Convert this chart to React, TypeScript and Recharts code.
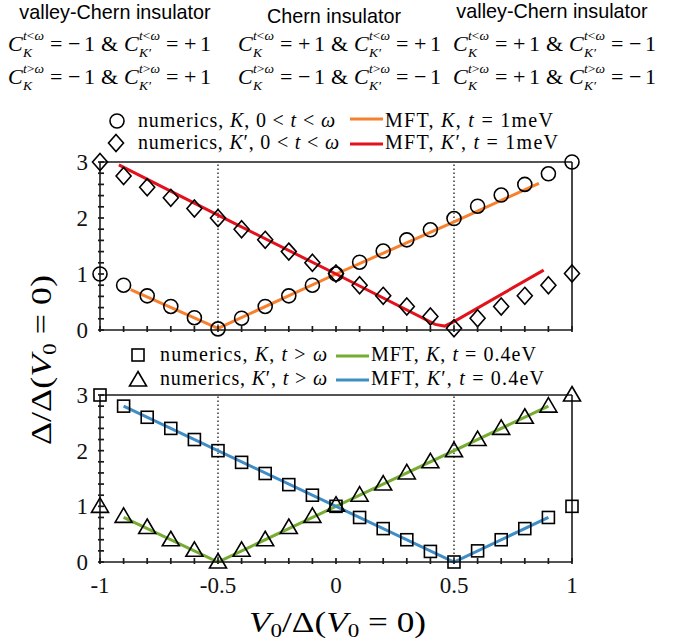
import React from "react"
import { ComposedChart, Line, Scatter, XAxis, YAxis, ReferenceLine } from "recharts"

// x positions of the numerical points (V0 / Delta(V0 = 0))
const v0 = [-1, -0.9, -0.8, -0.7, -0.6, -0.5, -0.4, -0.3, -0.2, -0.1, 0, 0.1, 0.2, 0.3, 0.4, 0.5, 0.6, 0.7, 0.8, 0.9, 1]

// upper panel: 0 < t < omega
const numKLow = [1.0, 0.8, 0.61, 0.42, 0.22, 0.02, 0.21, 0.42, 0.61, 0.8, 1.0, 1.21, 1.41, 1.61, 1.79, 1.99, 2.21, 2.41, 2.6, 2.79, 3.0]
const numKpLow = [3.0, 2.75, 2.55, 2.36, 2.17, 2.0, 1.8, 1.61, 1.4, 1.2, 1.01, 0.8, 0.61, 0.42, 0.24, 0.03, 0.21, 0.42, 0.61, 0.8, 1.01]
const mftKLowX = [-0.87, -0.5, 0, 0.5, 0.86]
const mftKLowY = [0.72, 0.03, 1.0, 1.93, 2.62]
const mftKpLowX = [-0.92, -0.5, 0, 0.42, 0.46, 0.5, 0.88]
const mftKpLowY = [2.95, 2.05, 1.0, 0.1, 0.07, 0.15, 1.07]

// lower panel: t > omega
const numKHigh = [3.0, 2.8, 2.6, 2.4, 2.2, 2.0, 1.79, 1.59, 1.39, 1.2, 1.0, 0.8, 0.6, 0.4, 0.19, 0.0, 0.2, 0.4, 0.6, 0.8, 1.0]
const numKpHigh = [1.0, 0.82, 0.62, 0.4, 0.21, 0.0, 0.21, 0.4, 0.62, 0.82, 1.02, 1.2, 1.4, 1.6, 1.8, 2.0, 2.2, 2.4, 2.6, 2.8, 3.0]
const mftKHighX = [-0.9, -0.5, 0.9]
const mftKHighY = [0.8, 0, 2.8]
const mftKpHighX = [-0.9, 0.5, 0.9]
const mftKpHighY = [2.8, 0, 0.8]

const xTicks = [-1, -0.9, -0.8, -0.7, -0.6, -0.5, -0.4, -0.3, -0.2, -0.1, 0, 0.1, 0.2, 0.3, 0.4, 0.5, 0.6, 0.7, 0.8, 0.9, 1]
const yTicks = [0, 0.2, 0.4, 0.6, 0.8, 1, 1.2, 1.4, 1.6, 1.8, 2, 2.2, 2.4, 2.6, 2.8, 3]
const xLabels = [-1, -0.5, 0, 0.5, 1]
const yLabels = [0, 1, 2, 3]
const phaseEdges = [-0.5, 0.5]

// header: phase name and the Chern numbers (C_K, C_K') below / above omega
const phaseNames = ["valley-Chern insulator", "Chern insulator", "valley-Chern insulator"]
const chernBelow = [["−", "+"], ["+", "+"], ["+", "−"]]
const chernAbove = [["−", "+"], ["−", "−"], ["+", "−"]]

const pts = (xs: number[], ys: number[]) => xs.map((x, i) => ({ x, y: ys[i] }))

const W = 699
const H = 643
const serif = "'Liberation Serif', 'Times New Roman', serif"
const sans = "'Liberation Sans', Arial, Helvetica, sans-serif"
const ink = "#1a1a1a"
const orange = "#F7802F"
const red = "#E3111B"
const green = "#77AC32"
const blue = "#3E8DC6"
const TICK = 6

const circle = (p: any) => <circle cx={p.cx} cy={p.cy} r={7} fill="none" stroke="#000" strokeWidth={1.6} />
const diamond = (p: any) => (
  <path d={`M${p.cx},${p.cy - 8.5}L${p.cx + 7.5},${p.cy}L${p.cx},${p.cy + 8.5}L${p.cx - 7.5},${p.cy}Z`} fill="none" stroke="#000" strokeWidth={1.6} />
)
const square = (p: any) => <rect x={p.cx - 6} y={p.cy - 6} width={12} height={12} fill="none" stroke="#000" strokeWidth={1.6} />
const triangle = (p: any) => (
  <path d={`M${p.cx},${p.cy - 8.5}L${p.cx + 8.5},${p.cy + 6}L${p.cx - 8.5},${p.cy + 6}Z`} fill="none" stroke="#000" strokeWidth={1.6} />
)

// inward MATLAB-style ticks, label only on the major values
const tickText = { fill: "#111", fontSize: 23, fontFamily: serif }
const bottomTick = (show: boolean) => (p: any) => (
  <g>
    <line x1={p.x} x2={p.x} y1={p.y} y2={p.y - TICK} stroke={ink} strokeWidth={1.7} />
    {show && xLabels.includes(p.payload.value) ? (
      <text x={p.x} y={p.y + 29} textAnchor="middle" {...tickText}>{String(p.payload.value)}</text>
    ) : null}
  </g>
)
const topTick = (p: any) => (
  <g>
    <line x1={p.x} x2={p.x} y1={p.y} y2={p.y + TICK} stroke={ink} strokeWidth={1.7} />
  </g>
)
const leftTick = (p: any) => (
  <g>
    <line x1={p.x} x2={p.x + TICK} y1={p.y} y2={p.y} stroke={ink} strokeWidth={1.7} />
    {yLabels.includes(p.payload.value) ? (
      <text x={p.x - 10} y={p.y + 8} textAnchor="end" {...tickText}>{String(p.payload.value)}</text>
    ) : null}
  </g>
)
const rightTick = (p: any) => (
  <g>
    <line x1={p.x} x2={p.x - TICK} y1={p.y} y2={p.y} stroke={ink} strokeWidth={1.7} />
  </g>
)

function frame(showXLabels: boolean) {
  const line = { stroke: ink, strokeWidth: 1.6 }
  return [
    <XAxis key="xb" type="number" dataKey="x" domain={[-1, 1]} ticks={xTicks} interval={0} height={30}
      tickSize={0} axisLine={line} tickLine={false} tick={bottomTick(showXLabels)} />,
    <XAxis key="xt" xAxisId="t" orientation="top" type="number" domain={[-1, 1]} ticks={xTicks} interval={0}
      height={1} tickSize={0} axisLine={line} tickLine={false} tick={topTick} />,
    <YAxis key="yl" type="number" domain={[0, 3]} ticks={yTicks} interval={0} width={40}
      tickSize={0} axisLine={line} tickLine={false} tick={leftTick} />,
    <YAxis key="yr" yAxisId="r" orientation="right" type="number" domain={[0, 3]} ticks={yTicks} interval={0}
      width={1} tickSize={0} axisLine={line} tickLine={false} tick={rightTick} />,
    ...phaseEdges.map((e) => (
      <ReferenceLine key={"e" + e} x={e} stroke="#000" strokeWidth={1.2} strokeDasharray="1.5 2.5" />
    )),
  ]
}

function Chern({ x, y, op, s1, s2 }: { x: number; y: number; op: string; s1: string; s2: string }) {
  const b = 22
  const s = 13.5
  const sup = (
    <>
      <tspan fontStyle="italic">t</tspan>
      {op}
      <tspan fontStyle="italic">ω</tspan>
    </>
  )
  return (
    <g fontFamily={serif} fill="#000">
      <text x={x} y={y} fontSize={b} fontStyle="italic">C</text>
      <text x={x + 15} y={y - 11} fontSize={s}>{sup}</text>
      <text x={x + 15} y={y + 6} fontSize={s} fontStyle="italic">K</text>
      <text x={x + 42} y={y} fontSize={b}>=</text>
      <text x={x + 60} y={y} fontSize={b}>{s1}</text>
      <text x={x + 76} y={y} fontSize={b}>1</text>
      <text x={x + 93} y={y} fontSize={b}>&amp;</text>
      <text x={x + 116} y={y} fontSize={b} fontStyle="italic">C</text>
      <text x={x + 131} y={y - 11} fontSize={s}>{sup}</text>
      <text x={x + 131} y={y + 6} fontSize={s} fontStyle="italic">K′</text>
      <text x={x + 158} y={y} fontSize={b}>=</text>
      <text x={x + 176} y={y} fontSize={b}>{s2}</text>
      <text x={x + 192} y={y} fontSize={b}>1</text>
    </g>
  )
}

const I = ({ children }: { children: React.ReactNode }) => <tspan fontStyle="italic">{children}</tspan>

function Overlay() {
  const cols = [8, 238, 453]
  const nameX = [115, 334, 552]
  const nameY = [19, 23, 18]
  return (
    <svg width={W} height={H} style={{ position: "absolute", left: 0, top: 0, pointerEvents: "none" }}>
      {phaseNames.map((n, i) => (
        <text key={"n" + i} x={nameX[i]} y={nameY[i]} textAnchor="middle" fontFamily={sans} fontSize={19.8} fill="#000">{n}</text>
      ))}
      {cols.map((c, i) => (
        <Chern key={"b" + i} x={c} y={51} op="<" s1={chernBelow[i][0]} s2={chernBelow[i][1]} />
      ))}
      {cols.map((c, i) => (
        <Chern key={"a" + i} x={c} y={84} op=">" s1={chernAbove[i][0]} s2={chernAbove[i][1]} />
      ))}

      {/* legend, upper panel */}
      <g fontFamily={serif} fontSize={20} fill="#000">
        {circle({ cx: 117, cy: 121 })}
        {diamond({ cx: 116, cy: 143 })}
        <text x={138} y={127} textLength={197} lengthAdjust="spacing">numerics, <I>K</I>, 0 &lt; <I>t</I> &lt; <I>ω</I></text>
        <text x={138} y={149} textLength={201} lengthAdjust="spacing">numerics, <I>K</I>′, 0 &lt; <I>t</I> &lt; <I>ω</I></text>
        <line x1={350} x2={383} y1={119} y2={119} stroke={orange} strokeWidth={3} />
        <line x1={350} x2={383} y1={144} y2={144} stroke={red} strokeWidth={3} />
        <text x={385} y={127} textLength={168} lengthAdjust="spacing">MFT, <I>K</I>, <I>t</I> = 1meV</text>
        <text x={385} y={149} textLength={173} lengthAdjust="spacing">MFT, <I>K</I>′, <I>t</I> = 1meV</text>
      </g>

      {/* legend, lower panel */}
      <g fontFamily={serif} fontSize={20} fill="#000">
        {square({ cx: 138, cy: 355 })}
        {triangle({ cx: 138, cy: 380 })}
        <text x={160} y={361} textLength={167} lengthAdjust="spacing">numerics, <I>K</I>, <I>t</I> &gt; <I>ω</I></text>
        <text x={160} y={385} textLength={167} lengthAdjust="spacing">numerics, <I>K</I>′, <I>t</I> &gt; <I>ω</I></text>
        <line x1={336} x2={369} y1={356} y2={356} stroke={green} strokeWidth={3} />
        <line x1={336} x2={369} y1={380} y2={380} stroke={blue} strokeWidth={3} />
        <text x={371} y={361} textLength={165} lengthAdjust="spacing">MFT, <I>K</I>, <I>t</I> = 0.4eV</text>
        <text x={371} y={385} textLength={173} lengthAdjust="spacing">MFT, <I>K</I>′, <I>t</I> = 0.4eV</text>
      </g>

      {/* axis titles */}
      <text x={249} y={632} textLength={177} lengthAdjust="spacingAndGlyphs" fontFamily={serif} fontSize={29} fill="#000">
        <I>V</I><tspan fontSize={19} dy={5}>0</tspan><tspan dy={-5}>/Δ(</tspan><I>V</I><tspan fontSize={19} dy={5}>0</tspan><tspan dy={-5}> = 0)</tspan>
      </text>
      <g transform="translate(51 445) rotate(-90)">
        <text x={0} y={0} textLength={170} lengthAdjust="spacingAndGlyphs" fontFamily={serif} fontSize={29} fill="#000">
          Δ/Δ(<I>V</I><tspan fontSize={19} dy={5}>0</tspan><tspan dy={-5}> = 0)</tspan>
        </text>
      </g>
    </svg>
  )
}

export default function App() {
  return (
    <div style={{ position: "absolute", left: 0, top: 0, width: W, height: H, background: "#fff" }}>
      <div style={{ position: "absolute", left: 0, top: 0 }}>
        <ComposedChart width={W} height={H} margin={{ top: 161, right: 126, bottom: 283, left: 60 }}>
          {frame(false)}
          <Scatter data={pts(v0, numKLow)} dataKey="y" shape={circle} isAnimationActive={false} />
          <Scatter data={pts(v0, numKpLow)} dataKey="y" shape={diamond} isAnimationActive={false} />
          <Line data={pts(mftKLowX, mftKLowY)} dataKey="y" type="linear" stroke={orange} strokeWidth={3} dot={false} isAnimationActive={false} />
          <Line data={pts(mftKpLowX, mftKpLowY)} dataKey="y" type="linear" stroke={red} strokeWidth={3} dot={false} isAnimationActive={false} />
        </ComposedChart>
      </div>
      <div style={{ position: "absolute", left: 0, top: 0 }}>
        <ComposedChart width={W} height={H} margin={{ top: 394, right: 126, bottom: 51, left: 60 }}>
          {frame(true)}
          <Scatter data={pts(v0, numKHigh)} dataKey="y" shape={square} isAnimationActive={false} />
          <Scatter data={pts(v0, numKpHigh)} dataKey="y" shape={triangle} isAnimationActive={false} />
          <Line data={pts(mftKHighX, mftKHighY)} dataKey="y" type="linear" stroke={green} strokeWidth={3} dot={false} isAnimationActive={false} />
          <Line data={pts(mftKpHighX, mftKpHighY)} dataKey="y" type="linear" stroke={blue} strokeWidth={3} dot={false} isAnimationActive={false} />
        </ComposedChart>
      </div>
      <Overlay />
    </div>
  )
}
